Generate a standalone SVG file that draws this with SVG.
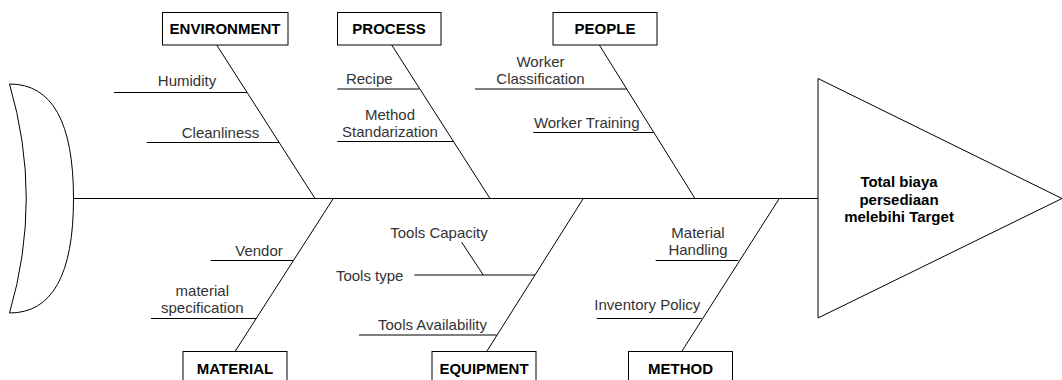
<svg xmlns="http://www.w3.org/2000/svg" width="1062" height="380" viewBox="0 0 1062 380">
  <style>
    .ln { stroke: #000; stroke-width: 1; fill: none; }
    .box { fill: #fff; stroke: #000; stroke-width: 1; }
    .shape { fill: #fff; stroke: #000; stroke-width: 1; }
    .cat { font-family: "Liberation Sans", Arial, sans-serif; font-size: 15px; font-weight: bold; fill: #000; text-anchor: middle; }
    .cause { font-family: "Liberation Sans", Arial, sans-serif; font-size: 15px; fill: #333; text-anchor: middle; }
    .head { font-family: "Liberation Sans", Arial, sans-serif; font-size: 15px; font-weight: bold; fill: #000; text-anchor: middle; }
  </style>
  <rect width="1062" height="380" fill="#fff"/>

  <!-- tail of the fish -->
  <g id="tail">
    <path class="shape" d="M9.5,84 Q73.5,84 73.5,198.5 Q73.5,313 9.5,313 Q43,198.5 9.5,84 Z"/>
  </g>

  <!-- spine, bones and sub-cause lines -->
  <g id="connectors">
    <line class="ln" x1="73.5" y1="198.5" x2="818" y2="198.5"/>
    <!-- upper bones -->
    <line class="ln" x1="216.7" y1="45" x2="315" y2="198.5"/>
    <line class="ln" x1="391.7" y1="45" x2="490" y2="198.5"/>
    <line class="ln" x1="599.3" y1="45" x2="695" y2="198.5"/>
    <!-- lower bones -->
    <line class="ln" x1="333.3" y1="198.5" x2="235" y2="351.5"/>
    <line class="ln" x1="583.3" y1="198.5" x2="486.7" y2="351.5"/>
    <line class="ln" x1="779.3" y1="198.5" x2="681.7" y2="351.5"/>
    <!-- environment causes -->
    <line class="ln" x1="114" y1="92.5" x2="247" y2="92.5"/>
    <line class="ln" x1="146.7" y1="142.5" x2="279" y2="142.5"/>
    <!-- process causes -->
    <line class="ln" x1="337.3" y1="89" x2="419" y2="89"/>
    <line class="ln" x1="337.3" y1="141.5" x2="453.3" y2="141.5"/>
    <!-- people causes -->
    <line class="ln" x1="475" y1="89" x2="626.7" y2="89"/>
    <line class="ln" x1="533.3" y1="132.5" x2="653.3" y2="132.5"/>
    <!-- material causes -->
    <line class="ln" x1="210.7" y1="260.5" x2="293.3" y2="260.5"/>
    <line class="ln" x1="151" y1="318.5" x2="256.7" y2="318.5"/>
    <!-- equipment causes -->
    <line class="ln" x1="414.3" y1="275" x2="535" y2="275"/>
    <line class="ln" x1="461.7" y1="242.3" x2="483.3" y2="275"/>
    <line class="ln" x1="359" y1="335" x2="496.7" y2="335"/>
    <!-- method causes -->
    <line class="ln" x1="655.7" y1="260.5" x2="738.3" y2="260.5"/>
    <line class="ln" x1="596.7" y1="318.5" x2="701.7" y2="318.5"/>
  </g>

  <!-- category boxes -->
  <g id="environment">
    <rect class="box" x="162.5" y="12.5" width="125.5" height="32.5"/>
    <text class="cat" x="225" y="34">ENVIRONMENT</text>
  </g>
  <g id="process">
    <rect class="box" x="337.5" y="12.5" width="103.5" height="32.5"/>
    <text class="cat" x="389" y="34">PROCESS</text>
  </g>
  <g id="people">
    <rect class="box" x="553" y="12.5" width="104" height="32.5"/>
    <text class="cat" x="605" y="34">PEOPLE</text>
  </g>
  <g id="material">
    <rect class="box" x="183" y="351.5" width="104" height="40"/>
    <text class="cat" x="235" y="373.5">MATERIAL</text>
  </g>
  <g id="equipment">
    <rect class="box" x="432" y="351.5" width="104" height="40"/>
    <text class="cat" x="484" y="373.5">EQUIPMENT</text>
  </g>
  <g id="method">
    <rect class="box" x="628.5" y="351.5" width="104" height="40"/>
    <text class="cat" x="680.5" y="373.5">METHOD</text>
  </g>

  <!-- effect (fish head) -->
  <g id="effect">
    <polygon class="shape" points="818,78.5 818,318 1062,198.5"/>
    <text class="head" x="899" y="187">Total biaya</text>
    <text class="head" x="899" y="204.5">persediaan</text>
    <text class="head" x="899" y="222">melebihi Target</text>
  </g>

  <!-- cause labels -->
  <g id="cause-labels">
    <text class="cause" x="187" y="86">Humidity</text>
    <text class="cause" x="220.5" y="137.5">Cleanliness</text>
    <text class="cause" x="369.3" y="84">Recipe</text>
    <text class="cause" x="390" y="120">Method</text>
    <text class="cause" x="390" y="137">Standarization</text>
    <text class="cause" x="540.5" y="67">Worker</text>
    <text class="cause" x="540.5" y="84">Classification</text>
    <text class="cause" x="586.7" y="128">Worker Training</text>
    <text class="cause" x="259" y="256">Vendor</text>
    <text class="cause" x="202.3" y="296">material</text>
    <text class="cause" x="202.3" y="313">specification</text>
    <text class="cause" x="439" y="237.5">Tools Capacity</text>
    <text class="cause" x="369.7" y="280.5">Tools type</text>
    <text class="cause" x="432.5" y="330">Tools Availability</text>
    <text class="cause" x="698" y="238">Material</text>
    <text class="cause" x="698" y="255">Handling</text>
    <text class="cause" x="647.3" y="310">Inventory Policy</text>
  </g>
</svg>
